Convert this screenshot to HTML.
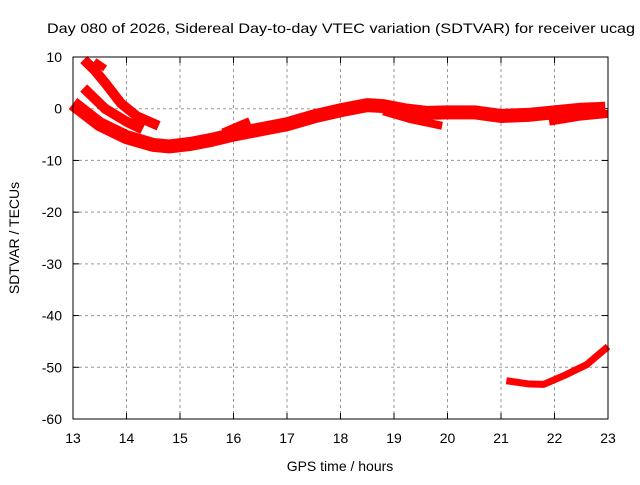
<!DOCTYPE html>
<html><head><meta charset="utf-8"><style>
body{margin:0;background:#fff;}
svg{font-family:"Liberation Sans",sans-serif;font-size:14px;}
</style></head><body>
<svg id="chart" width="640" height="480">
<rect x="0" y="0" width="640" height="480" fill="#fff"/>
<text x="47" y="33" textLength="588" lengthAdjust="spacingAndGlyphs">Day 080 of 2026, Sidereal Day-to-day VTEC variation (SDTVAR) for receiver ucag</text>
<text x="340" y="471" text-anchor="middle">GPS time / hours</text>
<text x="19" y="238" text-anchor="middle" transform="rotate(-90 19 238)">SDTVAR / TECUs</text>
<g id="grid"></g><g id="series"></g>
<rect x="73" y="57" width="535" height="362" fill="none" stroke="#000" stroke-width="1"/>
</svg>
<script>
const xTicks=[13,14,15,16,17,18,19,20,21,22,23];
const yTicks=[10,0,-10,-20,-30,-40,-50,-60];
const mainT=[13.0,13.5,14.0,14.5,14.8,15.2,15.6,16,16.5,17,17.5,18,18.5,18.8,19.2,19.6,20,20.5,21,21.5,22,22.5,22.95];
const mainV=[1,-3,-5.5,-7,-7.3,-6.8,-6,-5,-4,-3,-1.5,-0.3,0.7,0.5,-0.3,-0.8,-0.7,-0.7,-1.4,-1.2,-0.7,-0.2,0];
const b1T=[13.2,13.4,13.6,13.9,14.2,14.6];
const b1V=[9.5,7.5,5,1,-1.5,-3.3];
const b1bT=[13.4,13.6];
const b1bV=[9.2,7.8];
const b2T=[13.2,13.6,14,14.3];
const b2V=[4,0,-2.5,-4];
const b3T=[15.8,16.3];
const b3V=[-4.5,-2.3];
const b4T=[18.8,19.3,19.9];
const b4V=[-0.5,-2,-3.3];
const b5T=[21.9,22.5,23];
const b5V=[-2.5,-1.5,-1];
const lowT=[21.1,21.5,21.8,22.2,22.6,23];
const lowV=[-52.6,-53.2,-53.3,-51.5,-49.5,-46];
const X=h=>73+(h-13)*53.5, Y=v=>57+(10-v)*362/70;
const NS='http://www.w3.org/2000/svg';
const g=document.getElementById('grid'), s=document.getElementById('series');
function mk(tag,a,p){const e=document.createElementNS(NS,tag);for(const k in a)e.setAttribute(k,a[k]);p.appendChild(e);return e;}
xTicks.forEach(t=>{
 if(t>13&&t<23){const l=mk('line',{x1:X(t),x2:X(t),y1:57,y2:419,stroke:'#999','stroke-dasharray':'3,3'},g);
 
 }
 mk('line',{x1:X(t),x2:X(t),y1:419,y2:413,stroke:'#000'},g);
 mk('line',{x1:X(t),x2:X(t),y1:57,y2:63,stroke:'#000'},g);
 const tx=mk('text',{x:X(t),y:443,'text-anchor':'middle'},g);tx.textContent=t;
 
 
});
yTicks.forEach(v=>{
 if(v<10&&v>-60){const l=mk('line',{x1:73,x2:608,y1:Y(v),y2:Y(v),stroke:'#999','stroke-dasharray':'3,3'},g);
 
 }
 mk('line',{x1:73,x2:79,y1:Y(v),y2:Y(v),stroke:'#000'},g);
 mk('line',{x1:602,x2:608,y1:Y(v),y2:Y(v),stroke:'#000'},g);
 const tx=mk('text',{x:62,y:Y(v)+5,'text-anchor':'end'},g);tx.textContent=v;
 
 
});
function series(T,V,w,name){
 const p=mk('polyline',{points:T.map((t,i)=>X(t)+','+Y(V[i])).join(' '),fill:'none',stroke:'#f00','stroke-width':w,'stroke-linejoin':'round'},s);
 
 
}
series(mainT,mainV,14,'series-main');
series(b1T,b1V,10,'series-branch-1');
series(b1bT,b1bV,7,'series-branch-1b');
series(b2T,b2V,10,'series-branch-2');
series(b3T,b3V,7,'series-branch-3');
series(b4T,b4V,8,'series-branch-4');
series(b5T,b5V,8,'series-branch-5');
series(lowT,lowV,7,'series-low');
</script>
</body></html>
